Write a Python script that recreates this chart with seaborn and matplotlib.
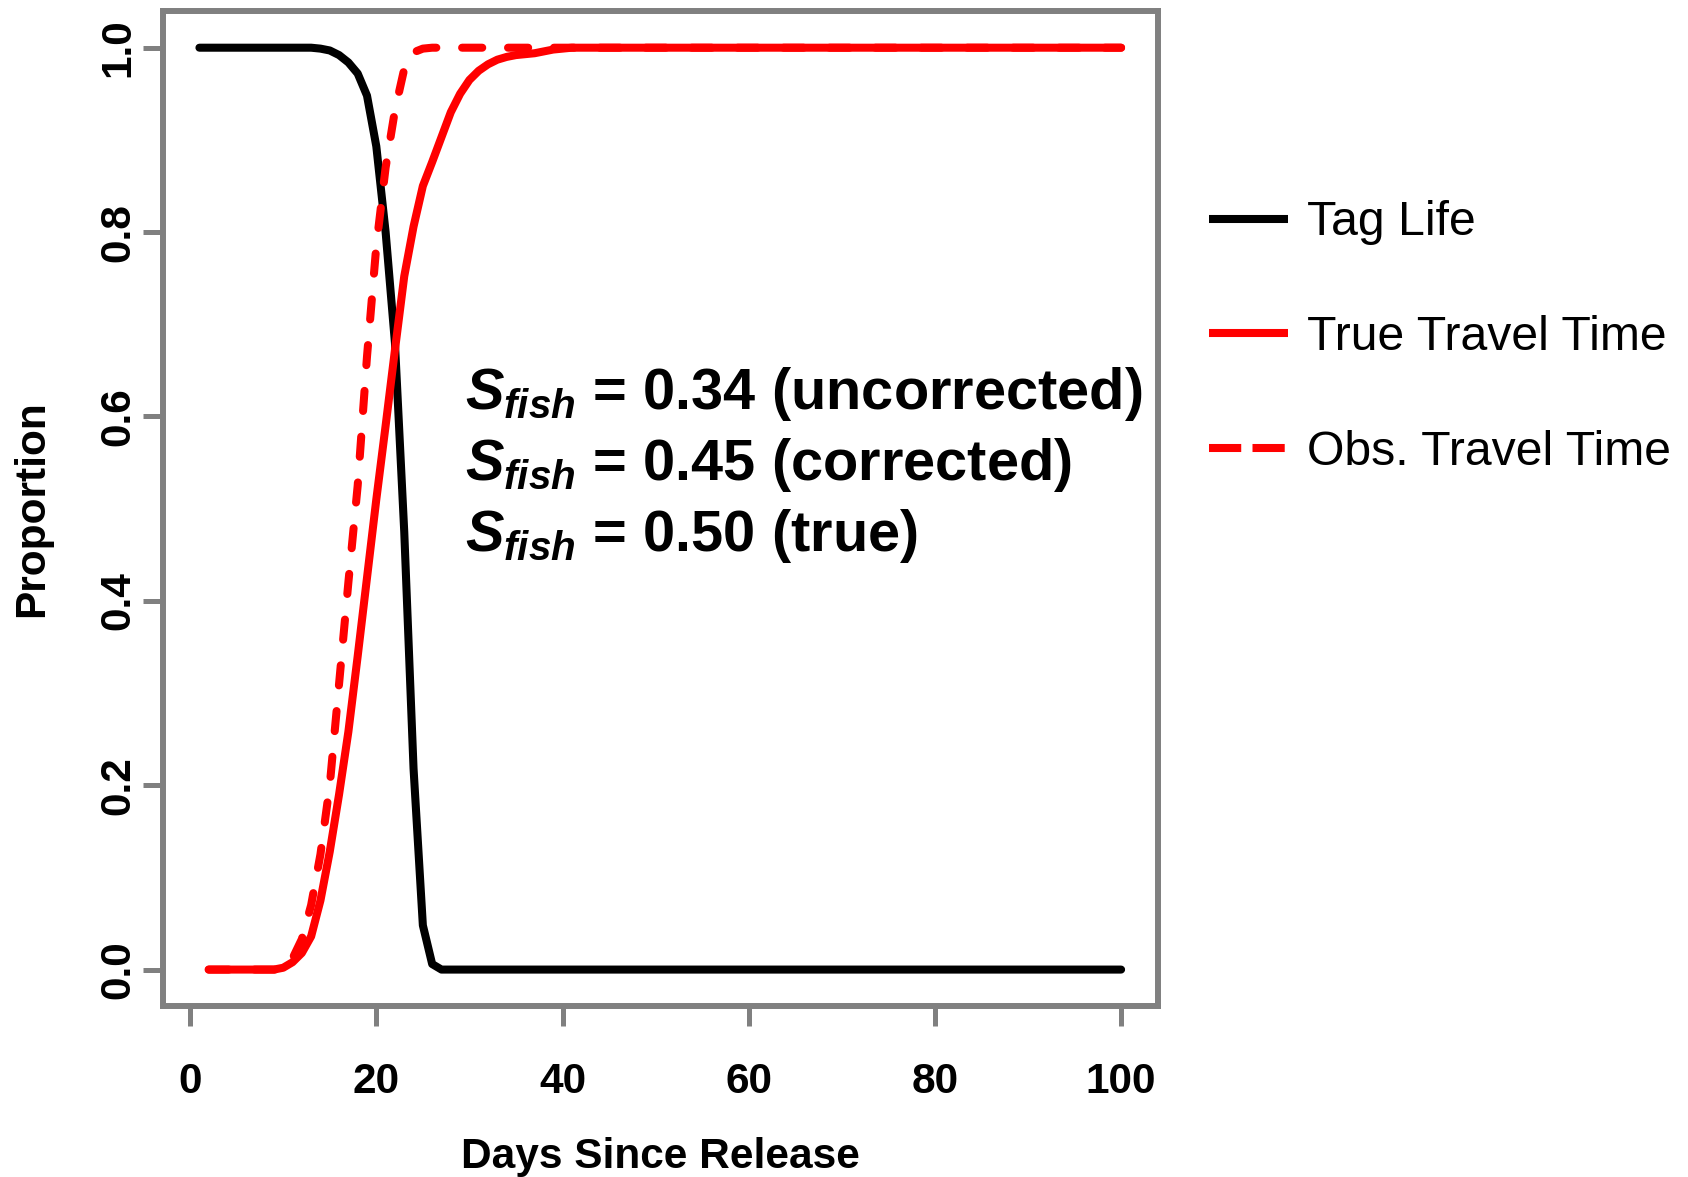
import matplotlib
matplotlib.use("Agg")
import matplotlib.pyplot as plt
from matplotlib.lines import Line2D
import seaborn as sns
import pandas as pd

# ---------------- data ----------------
days_tag = list(range(1, 101))
days_travel = list(range(2, 101))

tag_life = ([1.0] * 13 +
            [0.999, 0.997, 0.992, 0.984, 0.972, 0.948, 0.893, 0.800, 0.680,
             0.475, 0.218, 0.048, 0.006] +
            [0.0] * 74)

true_travel = ([0.0] * 8 +
               [0.002, 0.008, 0.018, 0.036, 0.075, 0.128, 0.190, 0.258, 0.340,
                0.425, 0.510, 0.590, 0.672, 0.752, 0.806, 0.850, 0.876, 0.903,
                0.930, 0.950, 0.965, 0.975, 0.982, 0.987, 0.990, 0.992, 0.993,
                0.994, 0.996, 0.998, 0.999] +
               [1.0] * 60)

obs_travel = ([0.0] * 9 +
              [0.012, 0.033, 0.070, 0.125, 0.200, 0.310, 0.420, 0.525, 0.665,
               0.785, 0.870, 0.932, 0.977, 0.995, 0.999] +
              [1.0] * 75)

series_names = ["Tag Life", "True Travel Time", "Obs. Travel Time"]
x_ticks = [0, 20, 40, 60, 80, 100]
y_ticks = [0.0, 0.2, 0.4, 0.6, 0.8, 1.0]
y_tick_labels = ["0.0", "0.2", "0.4", "0.6", "0.8", "1.0"]
annot_lines = [r"$S_{fish}$ = 0.34 (uncorrected)",
               r"$S_{fish}$ = 0.45 (corrected)",
               r"$S_{fish}$ = 0.50 (true)"]

# ---------------- style ----------------
sns.set_style("white")
plt.rcParams["font.family"] = ["Liberation Sans", "DejaVu Sans"]
plt.rcParams["font.weight"] = "bold"
plt.rcParams["text.color"] = "black"
plt.rcParams["axes.labelcolor"] = "black"
plt.rcParams["mathtext.fontset"] = "custom"
plt.rcParams["mathtext.it"] = "Liberation Sans:italic:bold"
plt.rcParams["mathtext.rm"] = "Liberation Sans:bold"
plt.rcParams["mathtext.bf"] = "Liberation Sans:bold"

GRAY = "#808080"
RED = "#FF0000"
LW = 5.8

fig = plt.figure(figsize=(16.88, 11.77), dpi=100)
ax = fig.add_axes([0.0963, 0.1449, 0.5897, 0.8459])

df = pd.DataFrame({
    "day": days_tag + days_travel + days_travel,
    "value": tag_life + true_travel + obs_travel,
    "series": ([series_names[0]] * len(days_tag) +
               [series_names[1]] * len(days_travel) +
               [series_names[2]] * len(days_travel)),
})

sns.lineplot(data=df[df.series == series_names[0]], x="day", y="value",
             color="black", lw=LW, estimator=None, ax=ax,
             solid_capstyle="round", solid_joinstyle="round")
sns.lineplot(data=df[df.series == series_names[1]], x="day", y="value",
             color=RED, lw=LW, estimator=None, ax=ax,
             solid_capstyle="round", solid_joinstyle="round")
sns.lineplot(data=df[df.series == series_names[2]], x="day", y="value",
             color=RED, lw=LW, estimator=None, ax=ax,
             linestyle=(0, (2.5, 3.2)), dash_capstyle="round",
             dash_joinstyle="round")

ax.set_xlim(1 - 0.04 * 99, 100 + 0.04 * 99)
ax.set_ylim(-0.04, 1.04)
ax.set_xticks(x_ticks)
ax.set_xticklabels([str(t) for t in x_ticks])
ax.set_yticks(y_ticks)
ax.set_yticklabels(y_tick_labels)

for sp in ax.spines.values():
    sp.set_visible(True)
    sp.set_color(GRAY)
    sp.set_linewidth(4.3)

ax.tick_params(axis="both", direction="out", length=14.5, width=3.6,
               color=GRAY, labelsize=30.5, labelcolor="black",
               bottom=True, left=True, top=False, right=False)
ax.tick_params(axis="x", pad=25.5)
ax.tick_params(axis="y", pad=3, labelrotation=90)
for lab in ax.get_yticklabels():
    lab.set_va("center")
    lab.set_fontweight("bold")
for lab in ax.get_xticklabels():
    lab.set_fontweight("bold")

ax.set_xlabel("Days Since Release", fontsize=30.5, fontweight="bold",
              color="black")
ax.set_ylabel("Proportion", fontsize=30.5, fontweight="bold", color="black")
ax.xaxis.set_label_coords(0.5, -0.151)
ax.xaxis.label.set_va("center")
ax.yaxis.set_label_coords(-0.131, 0.5)
ax.yaxis.label.set_va("center")

for i, txt in enumerate(annot_lines):
    ax.text(0.304, 0.600 - i * 0.0712, txt, transform=ax.transAxes,
            fontsize=41.6, fontweight="bold", ha="left", va="baseline",
            color="black")

handles = [
    Line2D([0], [0], color="black", lw=5.8, solid_capstyle="butt"),
    Line2D([0], [0], color=RED, lw=5.8, solid_capstyle="butt"),
    Line2D([0], [0], color=RED, lw=5.8, linestyle=(0, (4.0, 1.4)),
           dash_capstyle="butt"),
]
leg = fig.legend(handles, series_names, loc="upper left",
                 bbox_to_anchor=(0.716, 0.8297), frameon=False,
                 prop={"family": "Liberation Sans", "weight": "normal",
                       "size": 34.7},
                 handlelength=1.65, handletextpad=0.4, labelspacing=1.45,
                 borderpad=0, borderaxespad=0)
for t in leg.get_texts():
    t.set_color("black")

fig.savefig("out.png", dpi=100)
